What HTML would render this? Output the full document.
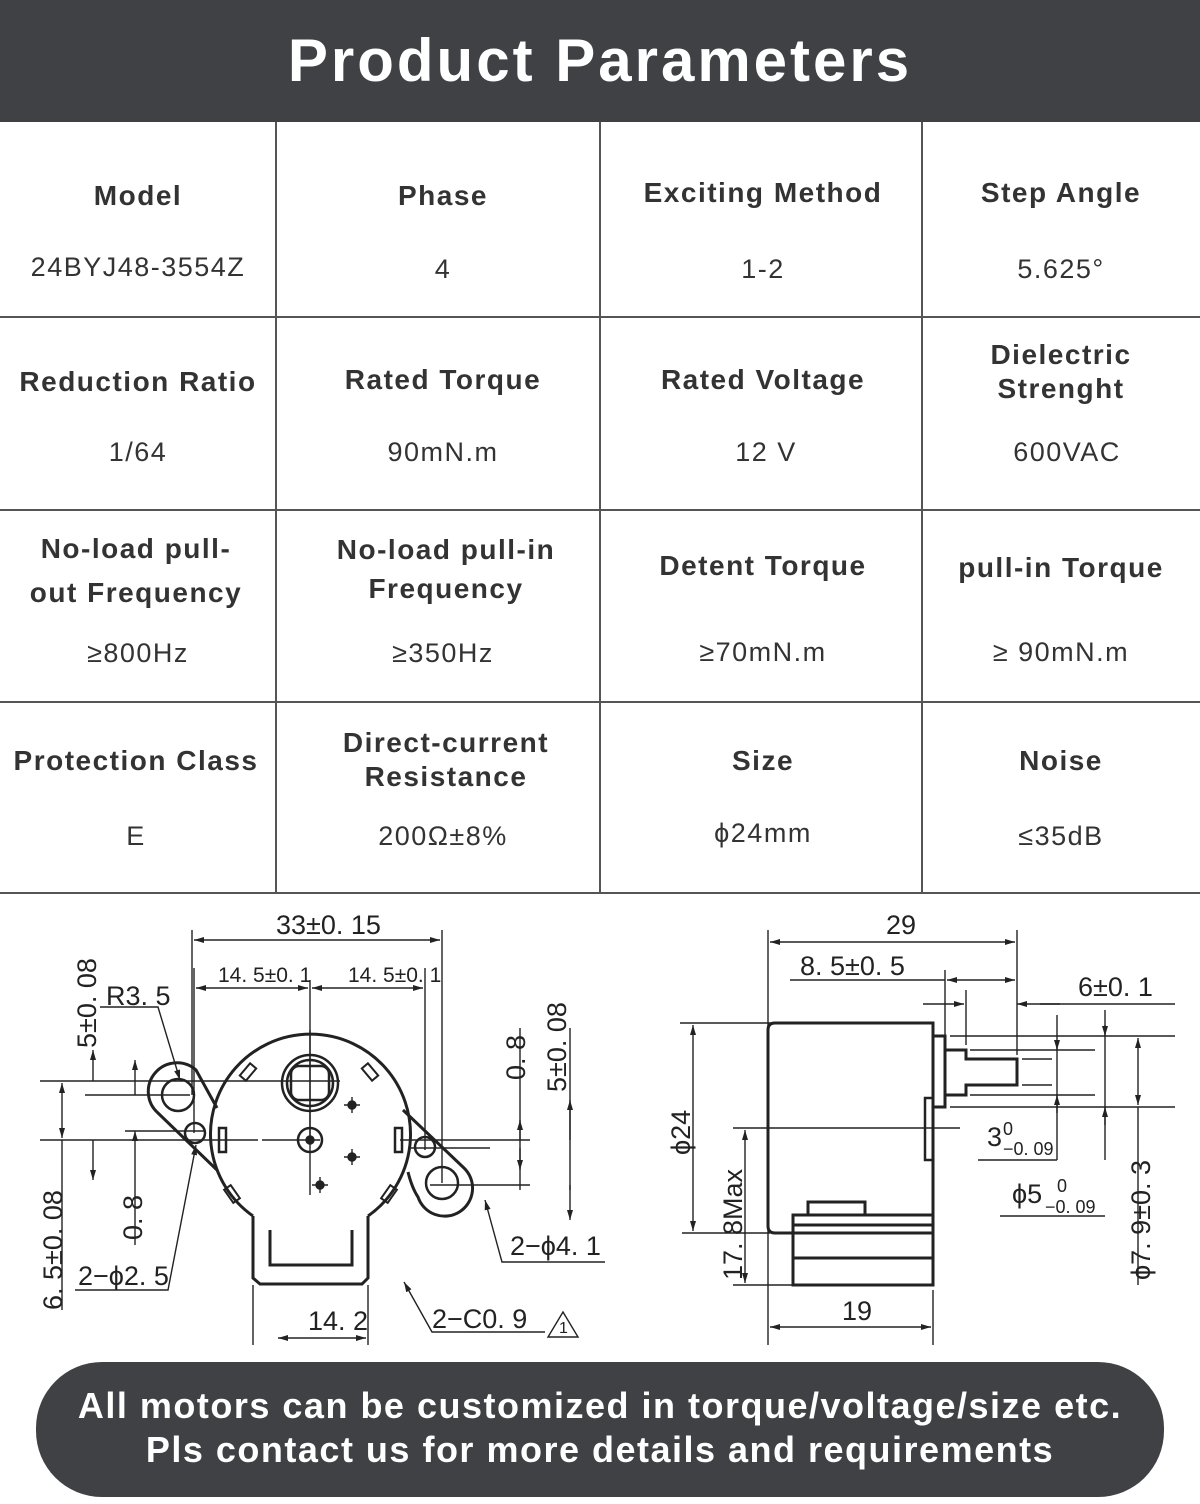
<!DOCTYPE html>
<html><head><meta charset="utf-8"><style>
*{margin:0;padding:0;box-sizing:border-box}
body{width:1200px;height:1504px;background:#fff;font-family:"Liberation Sans",sans-serif;color:#2b2b2b;position:relative;overflow:hidden}
.hdr{position:absolute;left:0;top:0;width:1200px;height:122px;background:#3f4144;color:#fff;font-size:60px;font-weight:bold;text-align:center;line-height:122px;letter-spacing:3px}
.c{position:absolute;text-align:center;letter-spacing:1.5px}
.l{font-weight:bold;font-size:28px;line-height:36px;color:#333}
.v{font-size:27px;color:#333}
.hl{position:absolute;left:0;width:1200px;height:1.5px;background:#555}
.vl{position:absolute;top:122px;height:771px;width:1.5px;background:#555}
.pill{position:absolute;left:36px;top:1362px;width:1128px;height:135px;background:#3f4144;border-radius:66px;color:#fff;font-size:36px;font-weight:bold;text-align:center;line-height:44px;padding-top:22px;letter-spacing:1.5px}
svg text{font-family:"Liberation Sans",sans-serif;fill:#222}
</style></head><body>
<div class="hdr">Product Parameters</div>
<div class="hl" style="top:316px"></div><div class="hl" style="top:509px"></div><div class="hl" style="top:701px"></div><div class="hl" style="top:892px"></div>
<div class="vl" style="left:275px"></div><div class="vl" style="left:599px"></div><div class="vl" style="left:921px"></div>

<div class="c l" style="left:0;width:276px;top:178px">Model</div>
<div class="c v" style="left:0;width:276px;top:252px">24BYJ48-3554Z</div>
<div class="c l" style="left:276px;width:334px;top:178px">Phase</div>
<div class="c v" style="left:276px;width:334px;top:254px">4</div>
<div class="c l" style="left:600px;width:326px;top:175px">Exciting Method</div>
<div class="c v" style="left:600px;width:326px;top:254px">1-2</div>
<div class="c l" style="left:922px;width:278px;top:175px">Step Angle</div>
<div class="c v" style="left:922px;width:278px;top:254px">5.625°</div>

<div class="c l" style="left:0;width:276px;top:364px">Reduction Ratio</div>
<div class="c v" style="left:0;width:276px;top:437px">1/64</div>
<div class="c l" style="left:276px;width:334px;top:362px">Rated Torque</div>
<div class="c v" style="left:276px;width:334px;top:437px">90mN.m</div>
<div class="c l" style="left:600px;width:326px;top:362px">Rated Voltage</div>
<div class="c v" style="left:600px;width:332px;top:437px">12 V</div>
<div class="c l" style="left:922px;width:278px;top:338px;line-height:34px">Dielectric<br>Strenght</div>
<div class="c v" style="left:922px;width:290px;top:437px">600VAC</div>

<div class="c l" style="left:0;width:272px;top:527px;line-height:44px">No-load pull-<br>out Frequency</div>
<div class="c v" style="left:0;width:276px;top:638px">≥800Hz</div>
<div class="c l" style="left:276px;width:340px;top:530px;line-height:39px">No-load pull-in<br>Frequency</div>
<div class="c v" style="left:276px;width:334px;top:638px">≥350Hz</div>
<div class="c l" style="left:600px;width:326px;top:548px">Detent Torque</div>
<div class="c v" style="left:600px;width:326px;top:637px">≥70mN.m</div>
<div class="c l" style="left:922px;width:278px;top:550px">pull-in Torque</div>
<div class="c v" style="left:922px;width:278px;top:637px">≥ 90mN.m</div>

<div class="c l" style="left:0;width:272px;top:743px">Protection Class</div>
<div class="c v" style="left:0;width:272px;top:821px">E</div>
<div class="c l" style="left:276px;width:340px;top:726px;line-height:34px">Direct-current<br>Resistance</div>
<div class="c v" style="left:276px;width:334px;top:821px">200Ω±8%</div>
<div class="c l" style="left:600px;width:326px;top:743px">Size</div>
<div class="c v" style="left:600px;width:326px;top:818px">ϕ24mm</div>
<div class="c l" style="left:922px;width:278px;top:743px">Noise</div>
<div class="c v" style="left:922px;width:278px;top:821px">≤35dB</div>

<svg style="position:absolute;left:0;top:0" width="1200" height="1504" viewBox="0 0 1200 1504">
<defs><marker id="a" viewBox="0 0 10 6" refX="10" refY="3" markerWidth="12" markerHeight="6" markerUnits="userSpaceOnUse" orient="auto-start-reverse"><path d="M0,0L10,3L0,6z" fill="#222"/></marker></defs>
<g stroke="#222" stroke-width="1.4" fill="none">
<!-- left drawing -->
<path d="M253,1216 A100,100 0 1 1 368,1216" stroke-width="3"/>
<path d="M253,1216 L253,1278 L260,1284 L362,1284 L368,1278 L368,1216" stroke-width="3"/>
<path d="M270,1230 L270,1265 L352,1265 L352,1230" stroke-width="3"/>
<path d="M217,1108 L196,1070 A28,28 0 0 0 158,1113 L217,1170" stroke-width="3"/>
<path d="M403,1110 L464,1168 A28,28 0 1 1 418,1197 Q412,1188 408,1172" stroke-width="3"/>
<circle cx="178" cy="1095" r="16" stroke-width="2.5"/>
<circle cx="195" cy="1133" r="10" stroke-width="2.5"/>
<circle cx="442" cy="1183" r="16" stroke-width="2.5"/>
<circle cx="425" cy="1147" r="10" stroke-width="2.5"/>
<circle cx="310" cy="1083" r="28" stroke-width="2.5"/>
<circle cx="310" cy="1083" r="23" stroke-width="2.5"/>
<rect x="291" y="1066" width="38" height="34" rx="8" stroke-width="2.5"/>
<circle cx="310" cy="1140" r="12" stroke-width="2.5"/>
<circle cx="310" cy="1140" r="4" fill="#222"/>
<circle cx="352" cy="1105" r="4" fill="#222"/><circle cx="352" cy="1157" r="4" fill="#222"/><circle cx="320" cy="1185" r="4" fill="#222"/>
<path d="M344,1105 H360 M352,1097 V1113 M344,1157 H360 M352,1149 V1165 M312,1185 H328 M320,1177 V1193"/>
<rect x="219" y="1128" width="7" height="24" stroke-width="2.5"/>
<rect x="395" y="1128" width="7" height="24" stroke-width="2.5"/>
<g stroke-width="2"><rect x="244" y="1064" width="8" height="16" transform="rotate(40 248 1072)"/><rect x="366" y="1064" width="8" height="16" transform="rotate(-40 370 1072)"/><rect x="228" y="1186" width="8" height="16" transform="rotate(-35 232 1194)"/><rect x="385" y="1186" width="8" height="16" transform="rotate(35 389 1194)"/></g>
<path d="M40,1081 H340 M40,1140 H258 M262,1140 H320 M400,1140 H530 M85,1095 H190 M125,1131 H205 M410,1148 H490 M430,1185 H530 M310,1030 V1195"/>
<path d="M192,1095 V930 M194,1133 V968 M310,1140 V980 M425,1150 V968 M442,1183 V930 M520,1028 V1190 M570,1028 V1190"/>
<path d="M194,940 H440" marker-start="url(#a)" marker-end="url(#a)"/>
<path d="M196,988 H308" marker-start="url(#a)" marker-end="url(#a)"/>
<path d="M312,988 H423" marker-start="url(#a)" marker-end="url(#a)"/>
<path d="M93,1081 V1050" marker-end="url(#a)"/><path d="M93,1140 V1180" marker-end="url(#a)"/>
<path d="M62,1083 V1138" marker-start="url(#a)" marker-end="url(#a)"/><path d="M62,1140 V1310"/>
<path d="M135,1095 V1060" marker-end="url(#a)"/><path d="M135,1131 V1245" marker-start="url(#a)"/>
<path d="M520,1140 V1120" marker-end="url(#a)"/><path d="M520,1148 V1170" marker-end="url(#a)"/>
<path d="M570,1140 V1100" marker-end="url(#a)"/><path d="M570,1185 V1220" marker-end="url(#a)"/>
<path d="M278,1338 H366" marker-start="url(#a)" marker-end="url(#a)"/><path d="M253,1285 V1345 M368,1285 V1345"/>
<path d="M100,1007 H158 L180,1080" marker-end="url(#a)"/>
<path d="M75,1290 H168 L196,1145" marker-end="url(#a)"/>
<path d="M605,1262 H502 L485,1200" marker-end="url(#a)"/>
<path d="M545,1332 H432 L404,1282" marker-end="url(#a)"/>
<path d="M563,1312 L548,1337 H578 Z"/>
<!-- right drawing -->
<path d="M775,1023 H933 V1233 H775 Q768,1233 768,1226 V1030 Q768,1023 775,1023 Z" stroke-width="3"/>
<rect x="793" y="1215" width="140" height="70" stroke-width="3"/><path d="M793,1225 H933 M793,1258 H933" stroke-width="3"/>
<rect x="808" y="1202" width="57" height="13" stroke-width="3"/>
<rect x="933" y="1036" width="12" height="71" stroke-width="3"/>
<path d="M945,1050 H966 V1059 H1017 V1085 H966 V1095 H945" stroke-width="3"/>
<rect x="925" y="1098" width="8" height="62" stroke-width="2.5"/>
<path d="M680,1023 H775 M682,1233 H770 M733,1285 H793 M733,1128 H960 M950,1036 H1175 M950,1107 H1175 M970,1050 H1095 M970,1095 H1095 M1022,1059 H1052 M1022,1085 H1052 M768,930 V1345 M933,1290 V1345 M1017,930 V1055 M945,970 V1045 M966,990 V1045 M1105,1010 V1160 M1057,1015 V1160"/>
<path d="M770,942 H1015" marker-start="url(#a)" marker-end="url(#a)"/>
<path d="M790,980 H945" /><path d="M947,980 H1015" marker-start="url(#a)" marker-end="url(#a)"/>
<path d="M923,1004 H964" marker-end="url(#a)"/><path d="M1060,1004 H1017" marker-end="url(#a)"/><path d="M1040,1004 H1175"/>
<path d="M693,1025 V1231" marker-start="url(#a)" marker-end="url(#a)"/>
<path d="M745,1130 V1283" marker-start="url(#a)" marker-end="url(#a)"/>
<path d="M770,1327 H931" marker-start="url(#a)" marker-end="url(#a)"/>
<path d="M1138,1038 V1105" marker-start="url(#a)" marker-end="url(#a)"/><path d="M1138,1107 V1285"/>
<path d="M1057,1040 V1050" marker-end="url(#a)"/><path d="M1057,1113 V1095" marker-end="url(#a)"/>
<path d="M1105,1025 V1036" marker-end="url(#a)"/><path d="M1105,1125 V1107" marker-end="url(#a)"/>
<path d="M978,1160 H1057 M1000,1216 H1105"/>
</g>
<g font-size="27">
<text x="276" y="934">33±0. 15</text>
<text x="218" y="982" font-size="21">14. 5±0. 1</text>
<text x="348" y="982" font-size="21">14. 5±0. 1</text>
<text x="106" y="1005">R3. 5</text>
<text x="78" y="1285">2−ϕ2. 5</text>
<text x="510" y="1255">2−ϕ4. 1</text>
<text x="308" y="1330">14. 2</text>
<text x="432" y="1328">2−C0. 9</text>
<text x="559" y="1333" font-size="16">1</text>
<text transform="translate(96,1048) rotate(-90)">5±0. 08</text>
<text transform="translate(566,1092) rotate(-90)">5±0. 08</text>
<text transform="translate(525,1080) rotate(-90)">0. 8</text>
<text transform="translate(142,1240) rotate(-90)">0. 8</text>
<text transform="translate(62,1310) rotate(-90)">6. 5±0. 08</text>
<text x="886" y="934">29</text>
<text x="800" y="975">8. 5±0. 5</text>
<text x="1078" y="996">6±0. 1</text>
<text x="987" y="1146">3</text><text x="1003" y="1135" font-size="18">0</text><text x="1003" y="1155" font-size="18">−0. 09</text>
<text x="1012" y="1203">ϕ5</text><text x="1057" y="1192" font-size="18">0</text><text x="1045" y="1213" font-size="18">−0. 09</text>
<text transform="translate(690,1155) rotate(-90)">ϕ24</text>
<text transform="translate(742,1280) rotate(-90)">17. 8Max</text>
<text transform="translate(1150,1280) rotate(-90)">ϕ7. 9±0. 3</text>
<text x="842" y="1320">19</text>
</g>
</svg>
<div class="pill">All motors can be customized in torque/voltage/size etc.<br>Pls contact us for more details and requirements</div>
</body></html>
